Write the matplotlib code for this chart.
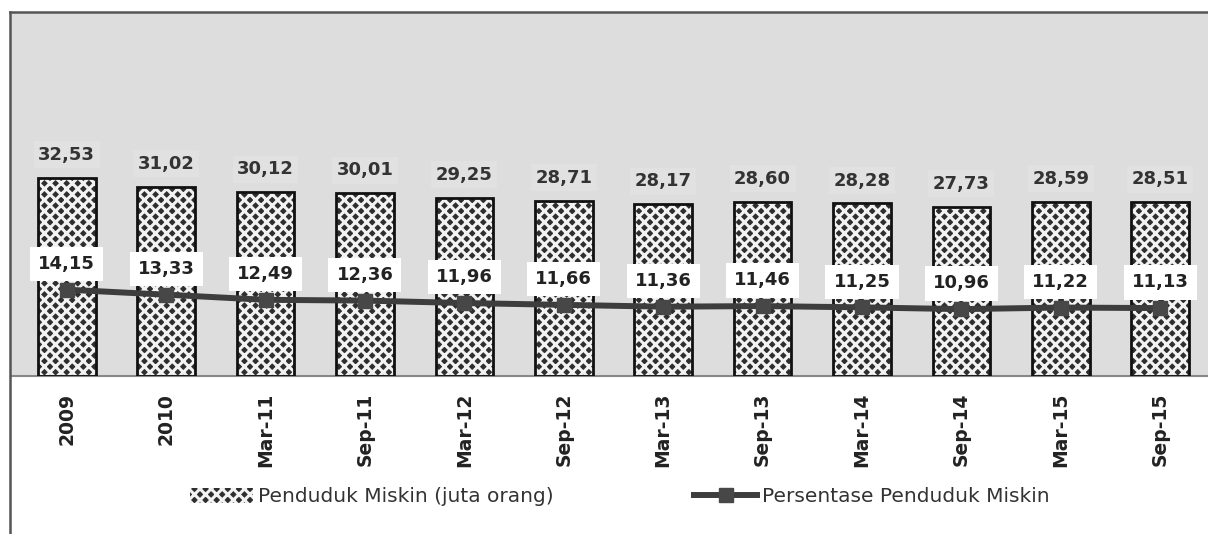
import numpy as np
import matplotlib.pyplot as plt
from matplotlib.lines import Line2D
from matplotlib.patches import Patch
from matplotlib import rcParams

rcParams.update({
    'font.family': 'DejaVu Sans',
    'hatch.linewidth': 2.2,
})

periods = ['2009', '2010', 'Mar-11', 'Sep-11', 'Mar-12', 'Sep-12',
           'Mar-13', 'Sep-13', 'Mar-14', 'Sep-14', 'Mar-15', 'Sep-15']
miskin = [32.53, 31.02, 30.12, 30.01, 29.25, 28.71,
          28.17, 28.60, 28.28, 27.73, 28.59, 28.51]
persen = [14.15, 13.33, 12.49, 12.36, 11.96, 11.66,
          11.36, 11.46, 11.25, 10.96, 11.22, 11.13]

def fmt(v):
    return ('%.2f' % v).replace('.', ',')

W, H = 1208, 534
fig = plt.figure(figsize=(W / 100, H / 100), dpi=100)
ax = fig.add_axes([11 / W, 1 - 376 / H, 1 - 11 / W, (376 - 13) / H])
ax.set_facecolor('#dddddd')

x = np.arange(len(periods))
# hatched fill, then the black outline on top
ax.bar(x, miskin, width=0.58, color='#2e2e2e', edgecolor='#f2f2f2',
       hatch='xxx', linewidth=0, zorder=2)
ax.bar(x, miskin, width=0.58, fill=False, edgecolor='#111111',
       linewidth=2, zorder=3)

for xi, v in zip(x, miskin):
    ax.annotate(fmt(v), (xi, v), xytext=(0, 10), textcoords='offset points',
                ha='center', va='bottom', fontsize=13, fontweight='bold',
                color='#333333',
                bbox=dict(boxstyle='square,pad=0.25', fc='#e1e1e1', ec='none'))

ax.plot(x, persen, color='#3d3d3d', lw=4.3, marker='s', ms=10,
        mfc='#474747', mec='#474747', zorder=4, solid_capstyle='butt')

for xi, v in zip(x, persen):
    ax.annotate(fmt(v), (xi, v), xytext=(0, 12), textcoords='offset points',
                ha='center', va='bottom', fontsize=13, fontweight='bold',
                color='#222222', zorder=5,
                bbox=dict(boxstyle='square,pad=0.45', fc='white', ec='none'))

ax.set_xlim(-0.56, 11.48)
ax.set_ylim(0, 59.5)
ax.set_yticks([])
ax.set_xticks(x)
ax.set_xticklabels(periods, rotation=90, fontsize=13.5, fontweight='bold',
                   color='#222222')
ax.tick_params(axis='x', length=0, pad=12)
for s in ['top', 'right', 'left']:
    ax.spines[s].set_visible(False)
ax.spines['bottom'].set_color('#888888')
ax.spines['bottom'].set_linewidth(1.5)

# outer frame of the chart (left and top)
fig.add_artist(Line2D([10 / W, 10 / W], [0, 1 - 12 / H], color='#555555', lw=1.8))
fig.add_artist(Line2D([10 / W, 1], [1 - 12 / H, 1 - 12 / H], color='#555555', lw=1.8))

h1 = Patch(facecolor='#2e2e2e', edgecolor='#f2f2f2', hatch='xxx', lw=0)
h2 = Line2D([], [], color='#3d3d3d', lw=4.3, marker='s', ms=10,
            mfc='#474747', mec='#474747')
leg = fig.legend([h1, h2], ['Penduduk Miskin (juta orang)', 'Persentase Penduduk Miskin'],
                 loc='center', bbox_to_anchor=(620 / W, 1 - 497 / H), ncol=2,
                 frameon=False, fontsize=14.5, handlelength=3.1, handleheight=0.7,
                 handletextpad=0.25, columnspacing=7.0, labelcolor='#333333')

fig.savefig('out.png', dpi=100)
